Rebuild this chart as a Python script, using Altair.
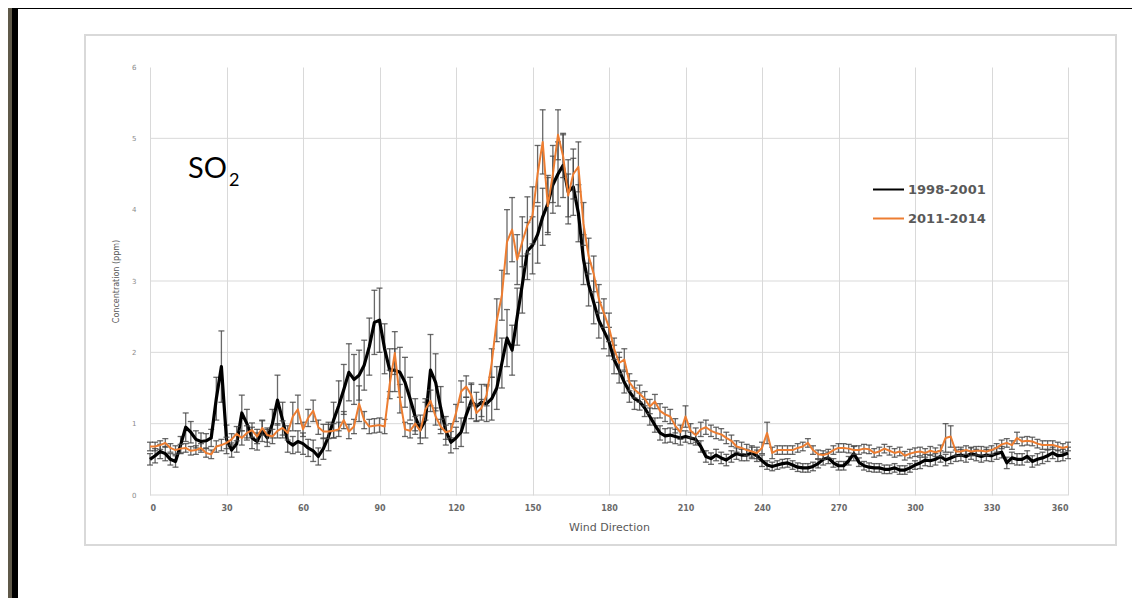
import altair as alt
import pandas as pd

# ---------------- data ----------------
DIRECTION = list(range(0, 361, 2))  # wind direction bins (degrees)

SERIES = ["1998-2001", "2011-2014"]

CONC_1998 = [
    0.50, 0.55, 0.61, 0.58, 0.50, 0.47, 0.70, 0.95, 0.88, 0.78, 0.75, 0.76, 0.80,
    1.35, 1.80, 0.78, 0.63, 0.72, 1.15, 1.00, 0.80, 0.75, 0.90, 0.80, 1.00, 1.33,
    1.05, 0.75, 0.70, 0.75, 0.72, 0.66, 0.62, 0.54, 0.65, 0.82, 1.05, 1.25, 1.48,
    1.72, 1.62, 1.68, 1.82, 2.08, 2.42, 2.45, 2.05, 1.75, 1.75, 1.72, 1.58, 1.35,
    1.10, 0.92, 1.05, 1.75, 1.58, 1.22, 0.90, 0.74, 0.80, 0.88, 1.12, 1.32, 1.24,
    1.30, 1.28, 1.35, 1.50, 1.85, 2.20, 2.03, 2.50, 2.95, 3.42, 3.50, 3.65, 3.90,
    4.08, 4.35, 4.50, 4.62, 4.25, 4.32, 3.95, 3.30, 2.95, 2.70, 2.45, 2.30, 2.15,
    1.90, 1.75, 1.58, 1.45, 1.35, 1.31, 1.22, 1.10, 0.98, 0.87, 0.83, 0.84, 0.82,
    0.80, 0.82, 0.80, 0.78, 0.68, 0.54, 0.51, 0.56, 0.52, 0.49, 0.54, 0.58, 0.56,
    0.56, 0.59, 0.55, 0.48, 0.42, 0.40, 0.42, 0.44, 0.45, 0.42, 0.39, 0.38, 0.38,
    0.40, 0.44, 0.50, 0.52, 0.45, 0.41, 0.41, 0.48, 0.58, 0.46, 0.41, 0.39, 0.38,
    0.38, 0.36, 0.36, 0.38, 0.35, 0.35, 0.38, 0.42, 0.45, 0.49, 0.48, 0.50, 0.54,
    0.49, 0.52, 0.55, 0.56, 0.54, 0.58, 0.56, 0.54, 0.56, 0.55, 0.58, 0.60, 0.45,
    0.52, 0.50, 0.50, 0.54, 0.47, 0.50, 0.52, 0.55, 0.59, 0.55, 0.56, 0.59,
]

ERR_1998 = [
    0.08, 0.10, 0.10, 0.10, 0.08, 0.08, 0.12, 0.20, 0.15, 0.12, 0.12, 0.10, 0.12,
    0.30, 0.50, 0.20, 0.10, 0.12, 0.25, 0.20, 0.15, 0.12, 0.15, 0.12, 0.20, 0.35,
    0.25, 0.15, 0.12, 0.15, 0.15, 0.12, 0.15, 0.12, 0.15, 0.20, 0.25, 0.35, 0.35,
    0.40, 0.35, 0.35, 0.35, 0.40, 0.45, 0.45, 0.35, 0.30, 0.30, 0.35, 0.35, 0.30,
    0.25, 0.20, 0.25, 0.50, 0.40, 0.30, 0.20, 0.15, 0.15, 0.20, 0.25, 0.25, 0.20,
    0.25, 0.25, 0.30, 0.30, 0.35, 0.40, 0.35, 0.40, 0.40, 0.40, 0.40, 0.40, 0.40,
    0.40, 0.40, 0.45, 0.45, 0.45, 0.40, 0.40, 0.35, 0.30, 0.30, 0.25, 0.25, 0.20,
    0.20, 0.18, 0.15, 0.15, 0.15, 0.12, 0.12, 0.12, 0.10, 0.10, 0.10, 0.10, 0.10,
    0.10, 0.08, 0.08, 0.08, 0.08, 0.08, 0.08, 0.08, 0.08, 0.08, 0.08, 0.08, 0.08,
    0.08, 0.08, 0.08, 0.08, 0.06, 0.06, 0.06, 0.06, 0.06, 0.06, 0.06, 0.06, 0.06,
    0.06, 0.06, 0.08, 0.08, 0.06, 0.06, 0.06, 0.06, 0.10, 0.06, 0.06, 0.06, 0.06,
    0.06, 0.06, 0.06, 0.06, 0.06, 0.06, 0.06, 0.06, 0.08, 0.08, 0.08, 0.08, 0.08,
    0.08, 0.08, 0.08, 0.08, 0.08, 0.08, 0.08, 0.08, 0.08, 0.08, 0.08, 0.08, 0.08,
    0.08, 0.08, 0.08, 0.08, 0.08, 0.08, 0.08, 0.08, 0.08, 0.08, 0.08, 0.08,
]

CONC_2011 = [
    0.68, 0.68, 0.70, 0.73, 0.66, 0.63, 0.65, 0.66, 0.62, 0.63, 0.66, 0.59, 0.57,
    0.68, 0.70, 0.73, 0.78, 0.86, 0.80, 0.87, 0.91, 0.82, 0.94, 0.84, 0.82, 0.90,
    0.94, 0.87, 1.10, 1.20, 0.92, 1.08, 1.18, 0.95, 0.89, 0.89, 0.90, 0.92, 1.05,
    0.89, 0.96, 1.28, 1.05, 0.96, 0.97, 0.98, 0.96, 1.55, 1.99, 1.35, 0.92, 0.90,
    1.00, 0.90, 1.20, 1.32, 1.10, 0.96, 0.88, 0.90, 1.15, 1.45, 1.52, 1.40, 1.15,
    1.22, 1.40, 1.85, 2.45, 2.80, 3.55, 3.72, 3.30, 3.55, 3.78, 3.92, 4.50, 4.95,
    4.05, 4.50, 5.05, 4.75, 4.20, 4.50, 4.60, 3.80, 3.35, 3.10, 2.75, 2.55, 2.35,
    2.05, 1.85, 1.90, 1.58, 1.48, 1.42, 1.35, 1.24, 1.31, 1.18, 1.13, 1.10, 0.97,
    0.88, 1.10, 0.90, 0.84, 0.92, 0.95, 0.90, 0.87, 0.85, 0.80, 0.76, 0.68, 0.66,
    0.63, 0.61, 0.59, 0.66, 0.87, 0.59, 0.63, 0.63, 0.63, 0.63, 0.66, 0.68, 0.73,
    0.63, 0.57, 0.56, 0.58, 0.63, 0.66, 0.66, 0.65, 0.63, 0.63, 0.65, 0.64, 0.59,
    0.61, 0.65, 0.62, 0.59, 0.61, 0.55, 0.58, 0.60, 0.61, 0.59, 0.62, 0.60, 0.62,
    0.80, 0.82, 0.61, 0.61, 0.63, 0.61, 0.62, 0.62, 0.61, 0.63, 0.66, 0.71, 0.73,
    0.70, 0.80, 0.75, 0.76, 0.75, 0.72, 0.70, 0.70, 0.70, 0.68, 0.66, 0.68,
]

ERR_2011 = [
    0.06, 0.06, 0.06, 0.06, 0.06, 0.06, 0.06, 0.06, 0.06, 0.06, 0.06, 0.06, 0.06,
    0.08, 0.08, 0.08, 0.08, 0.10, 0.10, 0.10, 0.10, 0.10, 0.10, 0.10, 0.10, 0.10,
    0.10, 0.10, 0.20, 0.20, 0.10, 0.12, 0.15, 0.10, 0.10, 0.10, 0.10, 0.10, 0.12,
    0.10, 0.10, 0.25, 0.12, 0.10, 0.10, 0.10, 0.10, 0.20, 0.30, 0.20, 0.10, 0.10,
    0.10, 0.10, 0.15, 0.15, 0.12, 0.10, 0.10, 0.10, 0.12, 0.15, 0.15, 0.15, 0.12,
    0.12, 0.15, 0.20, 0.30, 0.35, 0.45, 0.45, 0.35, 0.35, 0.40, 0.40, 0.40, 0.45,
    0.40, 0.40, 0.35, 0.30, 0.30, 0.35, 0.35, 0.30, 0.25, 0.25, 0.20, 0.20, 0.20,
    0.15, 0.15, 0.15, 0.12, 0.12, 0.12, 0.10, 0.10, 0.10, 0.10, 0.10, 0.10, 0.10,
    0.10, 0.15, 0.10, 0.10, 0.10, 0.10, 0.08, 0.08, 0.08, 0.08, 0.08, 0.08, 0.08,
    0.08, 0.08, 0.08, 0.08, 0.15, 0.08, 0.06, 0.06, 0.06, 0.06, 0.06, 0.06, 0.06,
    0.06, 0.06, 0.06, 0.06, 0.06, 0.06, 0.06, 0.06, 0.06, 0.06, 0.06, 0.06, 0.06,
    0.06, 0.06, 0.06, 0.06, 0.06, 0.06, 0.06, 0.06, 0.06, 0.06, 0.06, 0.06, 0.08,
    0.20, 0.15, 0.06, 0.06, 0.06, 0.06, 0.06, 0.06, 0.06, 0.06, 0.06, 0.06, 0.06,
    0.06, 0.08, 0.06, 0.06, 0.06, 0.06, 0.06, 0.06, 0.06, 0.06, 0.06, 0.06,
]

X_TICKS = list(range(0, 361, 30))
Y_TICKS = [0, 1, 2, 3, 4, 5, 6]
Y_GRID = [0, 1, 2, 3, 5]

# ---------------- tables ----------------
def series_frame(name, conc, err):
    df = pd.DataFrame({"dir": DIRECTION, "conc": conc, "err": err})
    df["series"] = name
    df["lo"] = df["conc"] - df["err"]
    df["hi"] = df["conc"] + df["err"]
    return df

df_a = series_frame(SERIES[0], CONC_1998, ERR_1998)
df_b = series_frame(SERIES[1], CONC_2011, ERR_2011)
grid_df = pd.DataFrame({"g": Y_GRID})
one = pd.DataFrame({"k": [0]})

W, H = 918, 428
xscale = alt.Scale(domain=[0, 360], nice=False, zero=False)
yscale = alt.Scale(domain=[0, 6], nice=False)
cscale = alt.Scale(domain=SERIES, range=["#000000", "#ED7D31"])

X_AXIS = alt.Axis(values=X_TICKS, title="Wind Direction", grid=True,
                  gridColor="#d9d9d9", gridWidth=1, domain=False, ticks=False,
                  labelPadding=9, labelFontSize=8, labelColor="#6a6a6a",
                  labelFont="DejaVu Sans", labelFontWeight="bold",
                  titleFontSize=11, titleColor="#595959", titleFont="DejaVu Sans",
                  titleFontWeight="normal", titlePadding=9)
Y_AXIS = alt.Axis(values=Y_TICKS, title="Concentration (ppm)", grid=False,
                  domain=False, ticks=False, labelPadding=14, labelFontSize=7,
                  labelColor="#8a8a8a", labelFont="DejaVu Sans",
                  titleFontSize=8, titleColor="#595959", titleFont="DejaVu Sans",
                  titleFontWeight="normal", titleX=-34, titleY=H / 2,
                  titleAngle=-90, titleBaseline="middle", titleAlign="center")


def X(field):
    return alt.X(field, type="quantitative", scale=xscale, axis=X_AXIS)


def Y(field):
    return alt.Y(field, type="quantitative", scale=yscale, axis=Y_AXIS)


# ---------------- decoration (slide frame + chart box) ----------------
brown_strip = alt.Chart(one).mark_rect(color="#5f5949").encode(
    x=alt.value(-150), x2=alt.value(-138), y=alt.value(-70), y2=alt.value(560))
black_left = alt.Chart(one).mark_rect(color="#000000").encode(
    x=alt.value(-138), x2=alt.value(-132), y=alt.value(-70), y2=alt.value(560))
black_top = alt.Chart(one).mark_rect(color="#000000").encode(
    x=alt.value(-138), x2=alt.value(1100), y=alt.value(-70), y2=alt.value(-58))
chart_box = alt.Chart(one).mark_rect(fill=None, stroke="#d9d9d9", strokeWidth=2).encode(
    x=alt.value(-65), x2=alt.value(966), y=alt.value(-32), y2=alt.value(478))

# ---------------- grid + axes ----------------
axes_layer = alt.Chart(df_a).mark_point(opacity=0).encode(x=X("dir"), y=Y("conc"))

hgrid = alt.Chart(grid_df).mark_rule(color="#d9d9d9", strokeWidth=1).encode(y=Y("g"))


# ---------------- error bars ----------------
def err_layers(df):
    bar = alt.Chart(df).mark_rule(color="#444444", strokeWidth=1.3, opacity=0.8).encode(
        x=X("dir"), y=Y("lo"), y2="hi:Q")
    cap_hi = alt.Chart(df).mark_tick(color="#444444", orient="horizontal", size=6,
                                     thickness=1.3, opacity=0.8).encode(
        x=X("dir"), y=Y("hi"))
    cap_lo = alt.Chart(df).mark_tick(color="#444444", orient="horizontal", size=6,
                                     thickness=1.3, opacity=0.8).encode(
        x=X("dir"), y=Y("lo"))
    return [bar, cap_hi, cap_lo]


legend = alt.Legend(title=None, orient="none", legendX=722, legendY=106,
                    symbolType="stroke", symbolSize=961, symbolStrokeWidth=2,
                    labelFontSize=13, labelFont="DejaVu Sans", labelFontWeight="bold",
                    labelColor="#595959", labelOffset=3, rowPadding=5)


def line_layer(df, width):
    return alt.Chart(df).mark_line(strokeWidth=width, strokeJoin="round").encode(
        x=X("dir"), y=Y("conc"),
        color=alt.Color("series:N", scale=cscale, legend=legend),
    )


# ---------------- label SO2 ----------------
so_text = alt.Chart(one).mark_text(text="SO", font="Lato", fontSize=29, color="#000000",
                                   align="left", baseline="alphabetic").encode(
    x=alt.value(38), y=alt.value(111))
sub_text = alt.Chart(one).mark_text(text="2", font="Lato", fontSize=18, color="#000000",
                                    align="left", baseline="alphabetic").encode(
    x=alt.value(79), y=alt.value(119))

chart = alt.layer(
    brown_strip, black_left, black_top, chart_box,
    axes_layer, hgrid,
    *err_layers(df_a), line_layer(df_a, 3.2),
    *err_layers(df_b), line_layer(df_b, 2),
    so_text, sub_text,
).properties(
    width=W, height=H,
    autosize=alt.AutoSizeParams(type="none"),
    padding={"left": 142, "top": 59, "right": 64, "bottom": 103},
).configure(
    background="#ffffff",
).configure_view(stroke=None)

chart.save("out.html", embed_options={"renderer": "svg", "actions": False})
